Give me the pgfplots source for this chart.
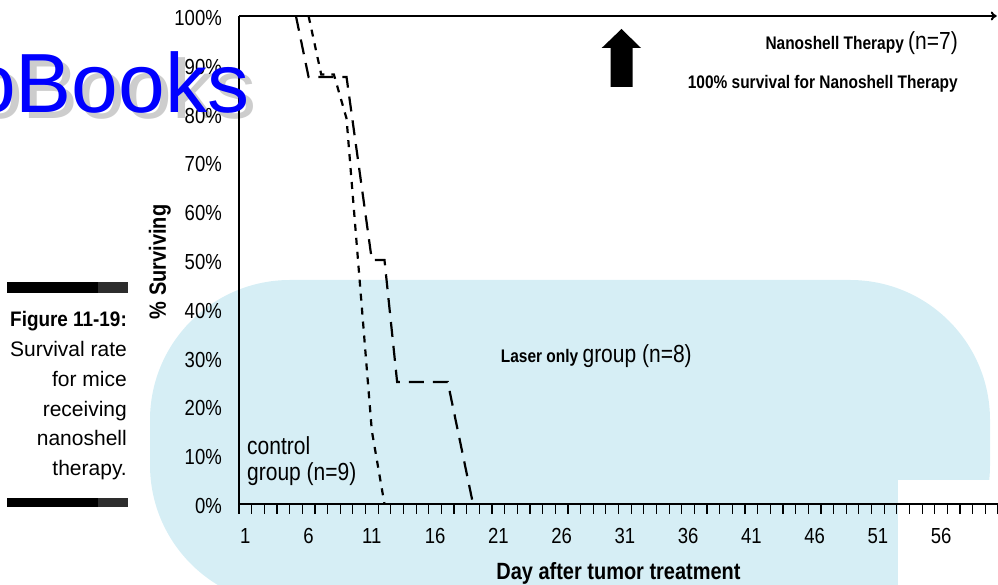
\documentclass[border=0pt]{standalone}
\usepackage{pgfplots}
\pgfplotsset{compat=1.18}
\usepackage{fontspec}
\setmainfont{Liberation Sans}
\newfontfamily\cnd{Liberation Sans}[FakeStretch=0.85]
\newfontfamily\capb{Liberation Sans}[FakeStretch=0.9]
\usetikzlibrary{arrows.meta}
\definecolor{wmblue}{RGB}{214,238,245}
\definecolor{wmgray}{RGB}{205,205,205}
\definecolor{barGray}{RGB}{45,45,45}
\newcommand{\fs}[1]{\fontsize{#1bp}{#1bp}\selectfont}
\begin{document}
\begin{tikzpicture}[x=1bp,y=1bp]
\path[use as bounding box] (0,0) rectangle (998,585);
% watermark background
\fill[wmblue, rounded corners=140bp] (150,-20) rectangle (990,305);
\fill[white] (898,-1) rectangle (999,105);
\node[anchor=base west, inner sep=0pt, text=wmgray] at (-24,466) {\fs{84}oBooks};

\begin{axis}[at={(239bp,81bp)}, anchor=south west, scale only axis,
  width=759bp, height=488bp,
  xmin=0.5, xmax=60.5, ymin=0, ymax=100,
  axis x line*=bottom, axis y line*=left,
  axis line style={line width=1.4bp, black},
  clip=false,
  xtick={1,6,11,16,21,26,31,36,41,46,51,56},
  xticklabels={1,6,11,16,21,26,31,36,41,46,51,56},
  minor xtick={0.5,1.5,...,60.5},
  tick align=outside, major tick length=0pt, minor tick length=10bp,
  minor tick style={line width=1.2bp, black},
  major tick style={draw=none},
  xticklabel style={anchor=base, inner sep=0pt, yshift=-40bp},
  ytick={0,10,...,100},
  yticklabels={0\%,10\%,20\%,30\%,40\%,50\%,60\%,70\%,80\%,90\%,100\%},
  yticklabel style={anchor=east, inner sep=0pt, xshift=-17bp, yshift=-2bp},
  ticklabel style={font=\cnd\fs{21.8}},
  xlabel={Day after tumor treatment}, ylabel={\% Surviving},
  xlabel style={at={(axis description cs:0.5,0)}, anchor=base, inner sep=0pt,
     yshift=-76bp, font=\cnd\bfseries\fs{23.5}},
  ylabel style={at={(axis description cs:-0.0962,0.496)}, anchor=base,
     inner sep=0pt, font=\cnd\bfseries\fs{23.5}},
]
% Nanoshell Therapy (n=7): 100% survival
\addplot[black, line width=2bp, -{To[length=6bp,width=9bp]}]
  coordinates {(0.5,100) (60.4,100)};
% Laser only group (n=8)
\addplot[black, line width=2.2bp, dash pattern=on 15bp off 9bp]
  coordinates {(5,100) (6,87.5) (9,87.5) (11,50) (12,50) (13,25) (17,25) (19,0)};
% control group (n=9)
\addplot[black, line width=2.2bp, dash pattern=on 7bp off 7bp]
  coordinates {(6,100) (7,88) (8,88) (9,79) (10,47) (11,15) (12,0)};
\end{axis}

% annotations
\node[anchor=base east, inner sep=0pt] at (958,535)
  {\cnd\bfseries\fs{18.2}Nanoshell Therapy \mdseries\fs{24.7}(n=7)};
\node[anchor=base east, inner sep=0pt] at (958,496)
  {\cnd\bfseries\fs{18.2}100\% survival for Nanoshell Therapy};
\fill[black] (610.7,498) -- (632.7,498) -- (632.7,537) -- (641,537)
  -- (621.5,556) -- (601.7,537) -- (610.7,537) -- cycle;
\node[anchor=base west, inner sep=0pt] at (500.7,222)
  {\cnd\bfseries\fs{18.2}Laser only \mdseries\fs{24.7}group (n=8)};
\node[anchor=base west, inner sep=0pt] at (247,130) {\cnd\fs{24.7}control};
\node[anchor=base west, inner sep=0pt] at (247,104) {\cnd\fs{24.7}group (n=9)};

% caption
\fill[black] (7,292) rectangle (98,303);
\fill[barGray] (98,292) rectangle (128,303);
\fill[black] (7,77.7) rectangle (98,87.3);
\fill[barGray] (98,77.7) rectangle (128,87.3);
\node[anchor=base east, inner sep=0pt] at (127,258) {\capb\bfseries\fs{21}Figure 11-19:};
\node[anchor=base east, inner sep=0pt] at (127,228) {\fs{21}Survival rate};
\node[anchor=base east, inner sep=0pt] at (127,198.4) {\fs{21}for mice};
\node[anchor=base east, inner sep=0pt] at (127,168.8) {\fs{21}receiving};
\node[anchor=base east, inner sep=0pt] at (127,139.2) {\fs{21}nanoshell};
\node[anchor=base east, inner sep=0pt] at (127,109.6) {\fs{21}therapy.};

% watermark text
\node[anchor=base west, inner sep=0pt, text=blue] at (-31,472) {\fs{84}oBooks};
\end{tikzpicture}
\end{document}
